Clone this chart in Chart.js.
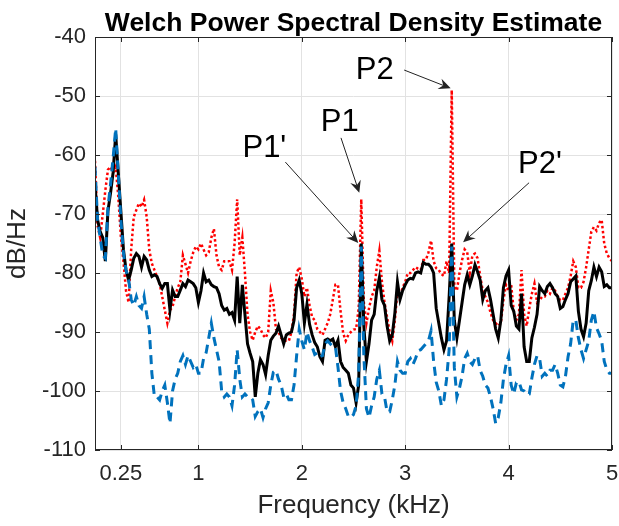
<!DOCTYPE html>
<html><head><meta charset="utf-8">
<script src="https://cdn.jsdelivr.net/npm/chart.js@4.4.1/dist/chart.umd.min.js"></script>
<style>html,body{margin:0;padding:0;background:#fff;}#wrap{width:619px;height:526px;position:relative;}</style>
</head><body><div id="wrap"><canvas id="c" width="619" height="526"></canvas></div>
<script>
const chartTitle = 'Welch Power Spectral Density Estimate';
const xLabel = 'Frequency (kHz)';
const yLabel = 'dB/Hz';
const xTicks = [0.25, 1, 2, 3, 4, 5];
const yTicks = [-110, -100, -90, -80, -70, -60, -50, -40];
const freqStep = 0.025; // kHz bin spacing
const freqKHz = Array.from({length: 201}, (_, i) => +(i * freqStep).toFixed(3));

// red dotted series (dB/Hz), one value per 0.025 kHz
const psdRed = [
 -61,-72,-74,-70,-66,-62.5,-62,-63,-62,-67,
 -73.8,-78,-83,-85,-76,-70.5,-69.3,-68.2,-68.8,-67.6,
 -70.5,-76.1,-78.4,-79.5,-80.6,-81.8,-84,-86.3,-88.5,-86.3,
 -85.7,-84,-82.5,-81.5,-77,-78.5,-80,-78,-76.5,-75.5,
 -76,-75,-76,-77,-76.5,-74,-72.5,-77,-79,-79.5,
 -78,-78,-78,-79.5,-75,-67.5,-77,-74,-80,-87,
 -90,-91.4,-90,-89,-89.5,-90.5,-91,-90,-83,-85,
 -89.5,-90,-91,-91.5,-91.5,-91.5,-90,-87,-80,-79,
 -81,-84,-82.5,-85.5,-87.5,-88,-89.5,-90,-90.5,-89.5,
 -88.5,-87,-84.5,-82,-82,-86.5,-90.2,-91.5,-90.5,-90,
 -89.6,-89.5,-86,-67.5,-85,-88.5,-86,-84,-83,-79,
 -76.2,-81.5,-85,-87.5,-90,-91.5,-88,-83,-84,-82.5,
 -81.5,-80,-80,-79.5,-79,-79.3,-79.5,-77.8,-77.8,-76.5,
 -74.5,-78,-79.2,-79.5,-80.2,-80.5,-78,-80,-49,-82,
 -83,-80,-77.8,-76,-76.5,-80,-77,-76.7,-77.5,-80.5,
 -83,-84,-85,-86.7,-88,-88.5,-89,-88.5,-84.6,-82,
 -83,-82,-86.5,-88,-87,-79.5,-87,-89,-86,-83.5,
 -81.8,-85,-84.6,-84,-84,-83,-83.5,-82.5,-83,-84,
 -84.6,-84.6,-83.5,-82.5,-80.5,-78,-79,-82.5,-82.5,-81.5,
 -79,-76,-73,-72.2,-72.8,-71.5,-71,-75,-76.7,-77.5,
 -78
];

// black solid series
const psdBlack = [
 -65,-71,-73,-74,-78,-69.5,-66.5,-63,-56.5,-63,
 -69.5,-76,-79.5,-81.2,-79.5,-77.5,-76.7,-77.2,-79,-77.2,
 -77.8,-79.5,-80.6,-80.3,-80.6,-81.8,-82.6,-81.8,-81.8,-86.3,
 -82.9,-84,-84,-82.9,-81.8,-82.3,-81.2,-81.5,-81.8,-82.5,
 -85,-83,-80,-81.5,-81.2,-82,-82.3,-82.5,-83.5,-85.5,
 -86.3,-86,-87,-86.7,-88,-80.6,-88.5,-82,-87,-92,
 -93.6,-95,-101,-97,-94.7,-95.5,-97.2,-94,-91.4,-90.7,
 -90.2,-89,-90.5,-92,-90.5,-90.2,-90,-88,-82.5,-81.2,
 -83.5,-88.5,-85.3,-88.7,-90.5,-91.8,-92.5,-94.2,-95,-91.4,
 -91.2,-91.5,-91.2,-92.5,-91.4,-95,-96,-96.5,-97,-99,
 -99.5,-102,-99,-75,-89,-95,-92,-88,-87,-83,
 -80.8,-84.5,-85.5,-89,-91.5,-90.5,-86.8,-81.5,-84.5,-83,
 -82,-81.2,-80.9,-81,-80,-79.8,-80,-78.2,-78.5,-78.5,
 -79,-80,-86,-88.5,-91,-93,-91.5,-84,-75,-88,
 -91,-88,-85,-82,-80.3,-82,-80.5,-78.6,-79.8,-81.2,
 -84.5,-83,-82.5,-84.5,-87,-89.5,-91,-88,-82.5,-80.5,
 -79.5,-85.5,-86.5,-89,-89.5,-83.5,-92.5,-95,-95,-91,
 -89.2,-87,-82.3,-83,-83.5,-82.3,-81.8,-82.5,-83.5,-84,
 -86,-85.7,-84.5,-83.5,-81.5,-81,-80.5,-86.5,-89.5,-90.8,
 -88.5,-83,-81.3,-79,-80.6,-79,-79.8,-82.3,-82,-82.5,
 -82.5
];

// blue dashed series
const psdBlue = [
 -62,-71,-74,-77,-77.5,-69,-65,-60.5,-55.5,-63,
 -71,-76.7,-79.5,-81,-84.5,-85.5,-84,-85.5,-86,-84,
 -87,-89.5,-97,-101,-101,-101.5,-100,-99,-102,-105.5,
 -100,-98,-97,-95,-94,-95.5,-94,-95,-96,-95.5,
 -97,-97,-94.5,-93.5,-91,-88.5,-91,-93,-95,-100,
 -101,-100.5,-101,-102.5,-99,-93,-98,-101,-100.5,-101,
 -101,-101.5,-104.3,-103.5,-103,-104.5,-103,-102,-99,-96.8,
 -96.5,-98,-99,-101,-100.5,-101.5,-101.5,-99,-94,-89.5,
 -91.5,-93,-90,-91.5,-92.5,-93.8,-93.5,-94.2,-94,-92,
 -91.5,-92,-92.5,-92.5,-96,-100,-102,-103,-104.3,-104.5,
 -104,-102.5,-97,-75.5,-94,-103,-104.5,-102.5,-101,-98,
 -96.5,-100.5,-101,-103.5,-103.5,-101.5,-99,-95,-96.5,-97,
 -97,-95,-94.5,-95.5,-94.5,-93.2,-93,-92.5,-92,-91.5,
 -89.8,-95,-98.5,-100,-102.5,-101.5,-98,-93,-75.5,-96,
 -101,-99.5,-97.5,-94.5,-93.6,-95,-95.5,-94.5,-94,-96.5,
 -97.5,-99,-99.5,-101,-103,-105.5,-104.5,-102,-98,-95.5,
 -94,-99,-100.5,-98.6,-98.4,-99.8,-100,-100.6,-100.5,-97.8,
 -95.5,-94,-94.5,-97.5,-97,-97.5,-96.5,-96.5,-95.5,-97,
 -99,-99.3,-97.5,-94.2,-92,-88,-88,-91,-93,-94.5,
 -93,-91.5,-88,-86.5,-89.3,-90.3,-91.5,-95,-96.4,-97,
 -97
];

// peak annotations (label anchor and arrow tail/head in data units: kHz, dB/Hz)
const peakLabels = ['P2', 'P1', "P1'", "P2'"];
const labelAt  = [[2.705,-45.3],[2.367,-54.0],[1.638,-58.4],[4.304,-61.2]];
const arrowTail = [[2.99,-45.6],[2.379,-57.1],[1.841,-61.2],[4.198,-64.7]];
const arrowHead = [[3.44,-48.7],[2.556,-66.4],[2.546,-74.9],[3.560,-74.8]];

const FONT = '"Liberation Sans", Arial, Helvetica, sans-serif';
const AX = '#262626';

function toPts(vals){ return freqKHz.map((f,i)=>({x:f, y:vals[i]})); }

function drawArrow(ctx, x0, y0, x1, y1){
  const ang = Math.atan2(y1-y0, x1-x0);
  const dx = Math.cos(ang), dy = Math.sin(ang);
  const L = 12, W = 5.5, N = 8;
  ctx.beginPath();
  ctx.moveTo(x0, y0);
  ctx.lineTo(x1 - N*dx, y1 - N*dy);
  ctx.stroke();
  ctx.beginPath();
  ctx.moveTo(x1, y1);
  ctx.lineTo(x1 - L*dx - W*dy, y1 - L*dy + W*dx);
  ctx.lineTo(x1 - N*dx, y1 - N*dy);
  ctx.lineTo(x1 - L*dx + W*dy, y1 - L*dy - W*dx);
  ctx.closePath();
  ctx.fill();
}

const framePlugin = {
  id: 'frame',
  afterDraw(chart){
    const {ctx, chartArea: a, scales: {x, y}} = chart;
    ctx.save();
    ctx.strokeStyle = AX; ctx.lineWidth = 1;
    ctx.strokeRect(a.left + 0.5, a.top + 0.5, a.right - a.left - 1, a.bottom - a.top - 1);
    const tl = 5;
    ctx.beginPath();
    xTicks.forEach(v => {
      const px = Math.round(x.getPixelForValue(v)) + 0.5;
      ctx.moveTo(px, a.bottom); ctx.lineTo(px, a.bottom - tl);
      ctx.moveTo(px, a.top); ctx.lineTo(px, a.top + tl);
    });
    yTicks.forEach(v => {
      const py = Math.round(y.getPixelForValue(v)) + 0.5;
      ctx.moveTo(a.left, py); ctx.lineTo(a.left + tl, py);
      ctx.moveTo(a.right, py); ctx.lineTo(a.right - tl, py);
    });
    ctx.stroke();

    // annotations
    ctx.strokeStyle = '#222'; ctx.fillStyle = '#222'; ctx.lineWidth = 1;
    for (let i = 0; i < peakLabels.length; i++){
      drawArrow(ctx,
        x.getPixelForValue(arrowTail[i][0]), y.getPixelForValue(arrowTail[i][1]),
        x.getPixelForValue(arrowHead[i][0]), y.getPixelForValue(arrowHead[i][1]));
    }
    ctx.fillStyle = '#000';
    ctx.font = '31px ' + FONT;
    ctx.textAlign = 'center'; ctx.textBaseline = 'alphabetic';
    for (let i = 0; i < peakLabels.length; i++){
      ctx.fillText(peakLabels[i], x.getPixelForValue(labelAt[i][0]), y.getPixelForValue(labelAt[i][1]) + 11);
    }

    // title
    ctx.font = 'bold 26.5px ' + FONT;
    ctx.fillStyle = '#000';
    ctx.fillText(chartTitle, (a.left + a.right) / 2, 31);
    ctx.restore();
  }
};

new Chart(document.getElementById('c'), {
  type: 'line',
  data: {
    datasets: [
      {label: 'blue', data: toPts(psdBlue), borderColor: '#0072BD', borderWidth: 3, borderDash: [9, 6], pointRadius: 0, tension: 0, fill: false, order: 0},
      {label: 'black', data: toPts(psdBlack), borderColor: '#000000', borderWidth: 3, pointRadius: 0, tension: 0, fill: false, order: 1},
      {label: 'red', data: toPts(psdRed), borderColor: '#FF0000', borderWidth: 2.5, borderDash: [2.5, 2.5], pointRadius: 0, tension: 0, fill: false, order: 2}
    ]
  },
  options: {
    responsive: false, animation: false, devicePixelRatio: 1,
    layout: {padding: {top: 37, right: 7, bottom: 0, left: 0}},
    plugins: {legend: {display: false}, tooltip: {enabled: false}, title: {display: false}},
    scales: {
      x: {
        type: 'linear', min: 0, max: 5,
        afterBuildTicks: s => { s.ticks = xTicks.map(v => ({value: v})); },
        afterFit: s => { s.height = 76; s.paddingLeft = 0; s.paddingRight = 0; },
        grid: {color: '#e2e2e2', drawTicks: false, lineWidth: 1},
        border: {display: false},
        ticks: {padding: 11, color: AX, font: {family: FONT, size: 22}, maxRotation: 0, autoSkip: false, callback: v => String(v)},
        title: {display: true, text: xLabel, color: AX, font: {family: FONT, size: 26}, padding: {top: 0, bottom: 5}}
      },
      y: {
        type: 'linear', min: -110, max: -40,
        afterBuildTicks: s => { s.ticks = yTicks.map(v => ({value: v})); },
        afterFit: s => { s.width = 95; s.paddingTop = 0; s.paddingBottom = 0; },
        grid: {color: '#e2e2e2', drawTicks: false, lineWidth: 1},
        border: {display: false},
        ticks: {padding: 9, color: AX, font: {family: FONT, size: 22}, autoSkip: false, callback: v => String(v)},
        title: {display: true, text: yLabel, color: AX, font: {family: FONT, size: 26}, padding: {top: 2, bottom: 0}}
      }
    }
  },
  plugins: [framePlugin]
});
</script>
</body></html>
